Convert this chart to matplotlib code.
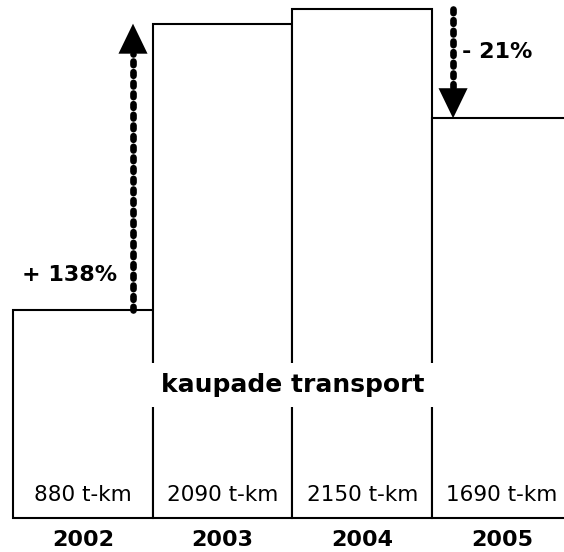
import numpy as np
import matplotlib.pyplot as plt

years = ['2002', '2003', '2004', '2005']
tkm = [880, 2090, 2150, 1690]
value_labels = ['880 t-km', '2090 t-km', '2150 t-km', '1690 t-km']
title_text = 'kaupade transport'
up_label = '+ 138%'
down_label = '- 21%'


def draw_arrow(ax, x, y_from, y_to, head_len=127, head_half=0.104):
    # dashed shaft with round caps, solid triangular head
    sign = 1 if y_to > y_from else -1
    base = y_to - sign * head_len
    ax.plot([x, x], [y_from, base], color='black', lw=4.8,
            dashes=(0.55, 1.05), dash_capstyle='round', solid_capstyle='round')
    ax.fill([x - head_half, x + head_half, x], [base, base, y_to],
            color='black', lw=0)


def main():
    plt.rcParams['font.family'] = ['DejaVu Sans']
    fig = plt.figure(figsize=(5.64, 5.52), dpi=100)
    ax = fig.add_axes([0, 0, 1, 1])
    ax.set_xlim(-0.593, 3.444)
    ax.set_ylim(-143.8, 2190)
    ax.axis('off')

    x = np.arange(len(years))
    ax.bar(x, tkm, width=1.0, color='white', edgecolor='black', lw=1.5)

    for xi, lab in zip(x, value_labels):
        ax.text(xi, 97, lab, ha='center', va='center', fontsize=15.5)
    for xi, yr in zip(x, years):
        ax.text(xi, -93, yr, ha='center', va='center', fontsize=16,
                fontweight='bold')

    ax.text(1.5, 562, title_text, ha='center', va='center', fontsize=18,
            fontweight='bold', zorder=5,
            bbox=dict(facecolor='white', edgecolor='none', pad=7))

    # change 2002 -> 2003 and 2004 -> 2005
    draw_arrow(ax, 0.359, tkm[0], tkm[1])
    draw_arrow(ax, 2.65, tkm[2], tkm[3])
    ax.text(0.244, 1027, up_label, ha='right', va='center', fontsize=16,
            fontweight='bold')
    ax.text(2.715, 1970, down_label, ha='left', va='center', fontsize=16,
            fontweight='bold')

    fig.savefig('out.png', dpi=100)


if __name__ == '__main__':
    main()
